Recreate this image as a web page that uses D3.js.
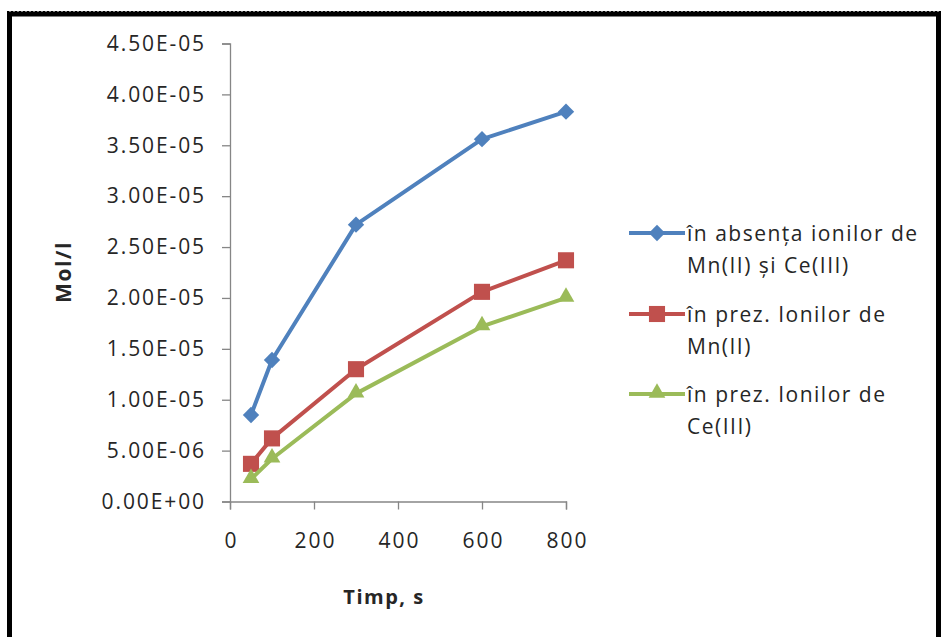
<!DOCTYPE html>
<html>
<head>
<meta charset="utf-8">
<script src="https://cdn.jsdelivr.net/npm/d3@7"></script>
<style>
  html, body { margin: 0; padding: 0; background: #fff; }
  svg { display: block; }
  text { font-family: "Open Sans", "Noto Sans", sans-serif; fill: #262626; }
</style>
</head>
<body>
<svg id="chart" width="941" height="637"></svg>
<script>
// Time points (s)
const times = [50, 100, 300, 600, 800];

// Concentration series (mol/l)
const seriesNames = [
  ["în absența ionilor de", "Mn(II) și Ce(III)"],
  ["în prez. Ionilor de", "Mn(II)"],
  ["în prez. Ionilor de", "Ce(III)"]
];
const absentValues = [8.5e-6, 13.9e-6, 27.2e-6, 35.6e-6, 38.3e-6];
const mnValues     = [3.7e-6, 6.2e-6, 13.0e-6, 20.6e-6, 23.7e-6];
const ceValues     = [2.2e-6, 4.2e-6, 10.6e-6, 17.2e-6, 20.0e-6];

const xTicks = [0, 200, 400, 600, 800];
const yTicks = [0, 5e-6, 1e-5, 1.5e-5, 2e-5, 2.5e-5, 3e-5, 3.5e-5, 4e-5, 4.5e-5];
const yTickLabels = ["0.00E+00", "5.00E-06", "1.00E-05", "1.50E-05", "2.00E-05",
                     "2.50E-05", "3.00E-05", "3.50E-05", "4.00E-05", "4.50E-05"];

const colors = ["#4F81BD", "#C0504D", "#9BBB59"];
const markers = ["diamond", "square", "triangle"];
const allSeries = [absentValues, mnValues, ceValues];

const svg = d3.select("#chart");

// Outer frame
svg.append("rect").attr("x", 9.5).attr("y", 14).attr("width", 929).attr("height", 640)
  .attr("fill", "none").attr("stroke", "#000").attr("stroke-width", 5);
svg.append("line").attr("x1", 7).attr("x2", 941).attr("y1", 11.5).attr("y2", 11.5)
  .attr("stroke", "#000").attr("stroke-width", 1).attr("stroke-dasharray", "2,2");

const x = d3.scaleLinear().domain([0, 800]).range([230, 566]);
const y = d3.scaleLinear().domain([0, 4.5e-5]).range([501.5, 43.5]);

// Y axis
const yAxis = svg.append("g").attr("transform", "translate(230,0)")
  .call(d3.axisLeft(y).tickValues(yTicks).tickSize(8).tickPadding(16)
    .tickFormat((d, i) => yTickLabels[i]));
yAxis.select(".domain").attr("stroke", "#868686").attr("stroke-width", 1.3);
yAxis.selectAll(".tick line").attr("stroke", "#868686").attr("stroke-width", 1.3);
yAxis.selectAll(".tick text").attr("font-size", 21).attr("fill", "#262626")
  .attr("letter-spacing", 1.9)
  .attr("font-family", "'Open Sans', sans-serif");

// X axis
const xAxis = svg.append("g").attr("transform", "translate(0,501.5)")
  .call(d3.axisBottom(x).tickValues(xTicks).tickSize(8).tickPadding(24)
    .tickFormat(d3.format("d")));
xAxis.select(".domain").attr("stroke", "#868686").attr("stroke-width", 1.3);
xAxis.selectAll(".tick line").attr("stroke", "#868686").attr("stroke-width", 1.3);
xAxis.selectAll(".tick text").attr("font-size", 21).attr("fill", "#262626")
  .attr("letter-spacing", 2).attr("dx", 1)
  .attr("font-family", "'Open Sans', sans-serif");

// Axis titles
svg.append("text").attr("transform", "translate(71,272) rotate(-90)")
  .attr("text-anchor", "middle").attr("font-size", 21).attr("font-weight", "bold")
  .attr("letter-spacing", 1.5).attr("fill", "#000").text("Mol/l");
svg.append("text").attr("x", 384).attr("y", 604)
  .attr("text-anchor", "middle").attr("font-size", 20).attr("font-weight", "bold")
  .attr("letter-spacing", 1.5).attr("fill", "#000").text("Timp, s");

const symbolFor = {
  diamond: d3.symbol().type(d3.symbolDiamond2).size(170),
  square: d3.symbol().type(d3.symbolSquare2).size(330),
  triangle: d3.symbol().type(d3.symbolTriangle2).size(200)
};

const line = d3.line().x((d, i) => x(times[i])).y(d => y(d));

allSeries.forEach((vals, s) => {
  svg.append("path").datum(vals).attr("d", line)
    .attr("fill", "none").attr("stroke", colors[s]).attr("stroke-width", 4)
    .attr("stroke-linejoin", "round");
  svg.selectAll(null).data(vals).enter().append("path")
    .attr("d", symbolFor[markers[s]])
    .attr("transform", (d, i) => `translate(${x(times[i])},${y(d) + (markers[s] === "triangle" ? -1 : 0)})`)
    .attr("fill", colors[s]);
});

// Legend
const legendY = [233, 314, 394];
seriesNames.forEach((lines, s) => {
  const g = svg.append("g").attr("transform", `translate(0,${legendY[s]})`);
  g.append("line").attr("x1", 629).attr("x2", 685).attr("y1", 0).attr("y2", 0)
    .attr("stroke", colors[s]).attr("stroke-width", 4);
  g.append("path").attr("d", symbolFor[markers[s]])
    .attr("transform", `translate(657,${markers[s] === "triangle" ? -1 : 0})`)
    .attr("fill", colors[s]);
  lines.forEach((t, k) => {
    g.append("text").attr("x", 687).attr("y", k * 32).attr("dy", "0.36em")
      .attr("font-size", 21).attr("letter-spacing", 1.5).attr("fill", "#262626").text(t);
  });
});
</script>
</body>
</html>
